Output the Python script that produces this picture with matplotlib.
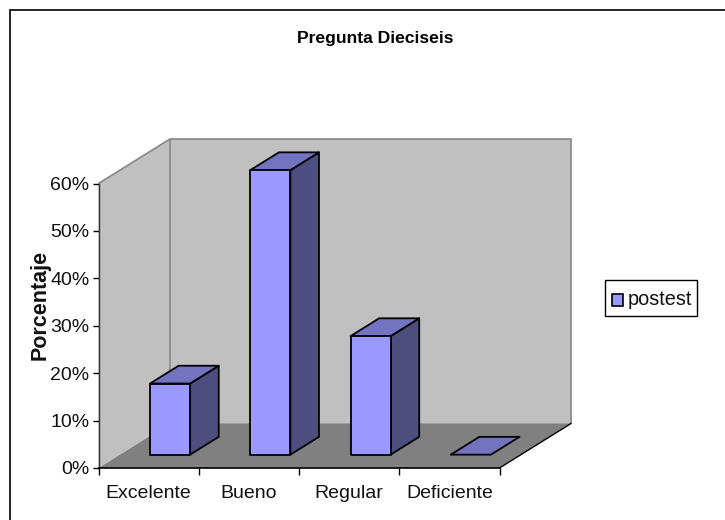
import matplotlib
matplotlib.use("Agg")
import matplotlib.pyplot as plt
from matplotlib.patches import Polygon, Rectangle

categories = ["Excelente", "Bueno", "Regular", "Deficiente"]
values = [15, 60, 25, 0]
y_ticks = [0, 10, 20, 30, 40, 50, 60]
series_name = "postest"
title = "Pregunta Dieciseis"
y_title = "Porcentaje"

W, H = 725, 520
plt.rcParams["font.family"] = ["Liberation Sans", "DejaVu Sans"]
fig = plt.figure(figsize=(W / 100, H / 100), dpi=100, facecolor="white")

L, R, T, B = 98.5, 499.5, 183.5, 468
ax = fig.add_axes([L / W, 1 - B / H, (R - L) / W, (B - T) / H])
ax.set_xlim(0, len(categories))
ax.set_ylim(0, 60)
ax.patch.set_visible(False)

# oblique depth, in data units
DX = 71.5 / ((R - L) / len(categories))
DY = 44.5 / ((B - T) / 60)
def oblique(x, y, d):
    return (x + DX * d, y + DY * d)

wall = "#c0c0c0"
floor = "#808080"
edge_grey = "#8c8c8c"
n = len(categories)
ax.add_patch(Polygon([oblique(0, 0, 0), oblique(0, 60, 0), oblique(0, 60, 1), oblique(0, 0, 1)],
                     fc=wall, ec="none", clip_on=False, zorder=1))
ax.add_patch(Polygon([oblique(0, 0, 1), oblique(0, 60, 1), oblique(n, 60, 1), oblique(n, 0, 1)],
                     fc=wall, ec="none", clip_on=False, zorder=1))
ax.add_patch(Polygon([oblique(0, 0, 0), oblique(n, 0, 0), oblique(n, 0, 1), oblique(0, 0, 1)],
                     fc=floor, ec="none", clip_on=False, zorder=1))
# grey wall outlines
for pts in ([oblique(0, 60, 0), oblique(0, 60, 1), oblique(n, 60, 1), oblique(n, 0, 1)],
            [oblique(0, 60, 1), oblique(0, 0, 1)]):
    ax.plot(*zip(*pts), color=edge_grey, lw=1.3, clip_on=False, zorder=1.5, solid_capstyle="butt")
ax.plot(*zip(oblique(n, 0, 0), oblique(n, 0, 1)), color="black", lw=1, clip_on=False, zorder=1.5)

# bars
front_c, top_c, side_c = "#9999ff", "#7373bf", "#4d4d80"
bw, d0, d1 = 0.40, 0.30, 0.70
for i, v in enumerate(values):
    x0, x1 = i + 0.5 - bw / 2, i + 0.5 + bw / 2
    z = 2 + i
    kw = dict(ec="black", lw=1.3, joinstyle="round", clip_on=False, zorder=z)
    if v > 0:
        ax.add_patch(Polygon([oblique(x1, 0, d0), oblique(x1, v, d0), oblique(x1, v, d1), oblique(x1, 0, d1)],
                             fc=side_c, **kw))
    ax.add_patch(Polygon([oblique(x0, v, d0), oblique(x1, v, d0), oblique(x1, v, d1), oblique(x0, v, d1)],
                         fc=top_c, **kw))
    if v > 0:
        ax.add_patch(Polygon([oblique(x0, 0, d0), oblique(x1, 0, d0), oblique(x1, v, d0), oblique(x0, v, d0)],
                             fc=front_c, **kw))

# axes
for s in ("top", "right"):
    ax.spines[s].set_visible(False)
ax.spines["left"].set_color("#333333")
ax.spines["left"].set_linewidth(1.0)
ax.spines["bottom"].set_color("black")
ax.spines["bottom"].set_linewidth(1.2)
ax.spines["left"].set_zorder(1.8)
ax.spines["bottom"].set_zorder(1.8)
ax.set_yticks(y_ticks)
ax.set_yticklabels([f"{t}%" for t in y_ticks], fontsize=14, color="#111111")
ax.tick_params(axis="y", length=4, width=1, pad=2.5)
ax.set_xticks(range(n + 1))
ax.set_xticklabels([])
ax.set_xticks([i + 0.5 for i in range(n)], minor=True)
ax.set_xticklabels(categories, minor=True, fontsize=14, color="#111111")
ax.tick_params(axis="x", which="major", length=5, width=1)
ax.tick_params(axis="x", which="minor", length=0, pad=21.5)
for lab in ax.get_xticklabels(minor=True):
    lab.set_verticalalignment("baseline")

fig.text(40 / W, 1 - 305 / H, y_title, rotation=90, fontsize=15.5, fontweight="bold",
         ha="center", va="center", color="#111111")
fig.text(375 / W, 1 - 38 / H, title, fontsize=12.6, fontweight="bold", ha="center", va="center", color="black")

# chart frame: runs past the right and bottom edges of the image
fig.add_artist(Rectangle((9.5 / W, 1 - 540 / H), 740 / W, 530 / H, transform=fig.transFigure,
                         fc="none", ec="black", lw=1.2, zorder=0))
# legend
fig.add_artist(Rectangle((604.5 / W, 1 - 316 / H), 92 / W, 36 / H, transform=fig.transFigure,
                         fc="white", ec="black", lw=1))
fig.add_artist(Rectangle((612 / W, 1 - 306 / H), 11 / W, 12 / H, transform=fig.transFigure,
                         fc=front_c, ec="black", lw=1.2))
fig.text(628 / W, 1 - 299.5 / H, series_name, fontsize=14.3, ha="left", va="center", color="#111111")

fig.savefig("out.png", dpi=100)
